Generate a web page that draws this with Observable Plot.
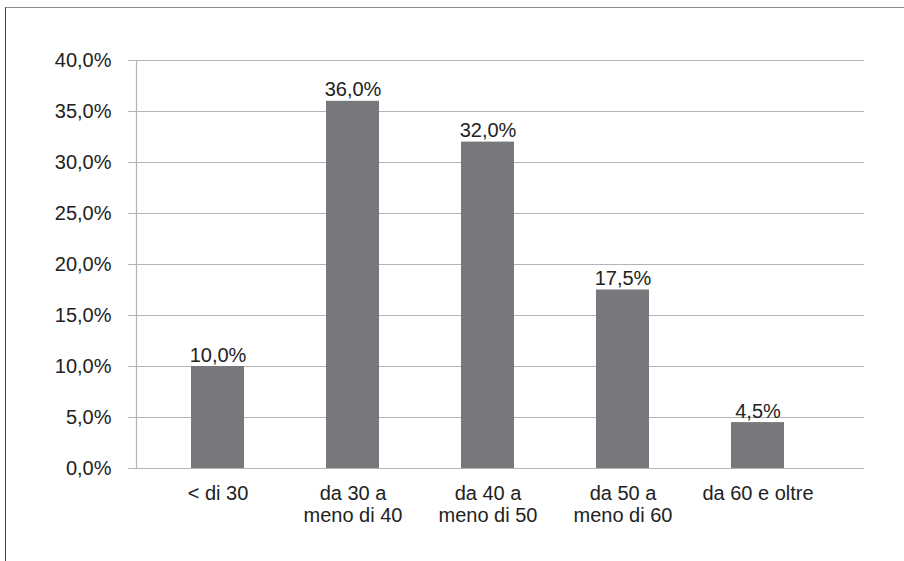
<!DOCTYPE html>
<html>
<head>
<meta charset="utf-8">
<script src="https://cdn.jsdelivr.net/npm/d3@7"></script>
<script src="https://cdn.jsdelivr.net/npm/@observablehq/plot@0.6"></script>
<style>
  html, body { margin: 0; padding: 0; background: #fff; overflow: hidden; }
  #wrap { position: relative; width: 904px; height: 561px; overflow: hidden; }
  #border {
    position: absolute; left: 5px; top: 7px; right: -20px; bottom: -20px;
    border-top: 1.5px solid #8c8c8c; border-left: 1.5px solid #444;
    pointer-events: none;
  }
  #chart { position: absolute; left: 0; top: 0; }
</style>
</head>
<body>
<div id="wrap"><div id="chart"></div><div id="border"></div></div>
<script>
// Age classes and their share of the total (percent)
const categories = ["< di 30", "da 30 a\nmeno di 40", "da 40 a\nmeno di 50", "da 50 a\nmeno di 60", "da 60 e oltre"];
const shares = [10.0, 36.0, 32.0, 17.5, 4.5];
const yTicks = [0, 5, 10, 15, 20, 25, 30, 35, 40];

const data = categories.map((c, i) => ({category: c, share: shares[i]}));
const pct = v => v.toFixed(1).replace(".", ",") + "%";
const font = "Liberation Sans, Arial, sans-serif";

const chart = Plot.plot({
  width: 904,
  height: 561,
  marginLeft: 136,
  marginRight: 40,
  marginTop: 60,
  marginBottom: 93,
  style: {fontFamily: font, fontSize: "20px", color: "#222", background: "transparent"},
  x: {domain: categories, range: [149.4, 825.6], paddingInner: 0.608, paddingOuter: 0.304, label: null},
  y: {domain: [0, 40], label: null},
  marks: [
    Plot.ruleY(yTicks, {stroke: "#b4b4b4", strokeWidth: 1.2}),
    Plot.frame({anchor: "left", stroke: "#b4b4b4", strokeWidth: 1.2}),
    Plot.axisY({ticks: yTicks, tickFormat: pct, tickSize: 8, tickPadding: 17, stroke: "#b4b4b4", fill: "#222", fontSize: 20, label: null}),
    Plot.axisX({tickSize: 0, tickPadding: 16, fill: "#222", fontSize: 20, lineHeight: 1.1, label: null}),
    Plot.barY(data, {x: "category", y: "share", fill: "#77787b"}),
    Plot.text(data, {x: "category", y: "share", text: d => pct(d.share), lineAnchor: "bottom", dy: -5, fill: "#222", fontSize: 20})
  ]
});
document.getElementById("chart").appendChild(chart);
</script>
</body>
</html>
